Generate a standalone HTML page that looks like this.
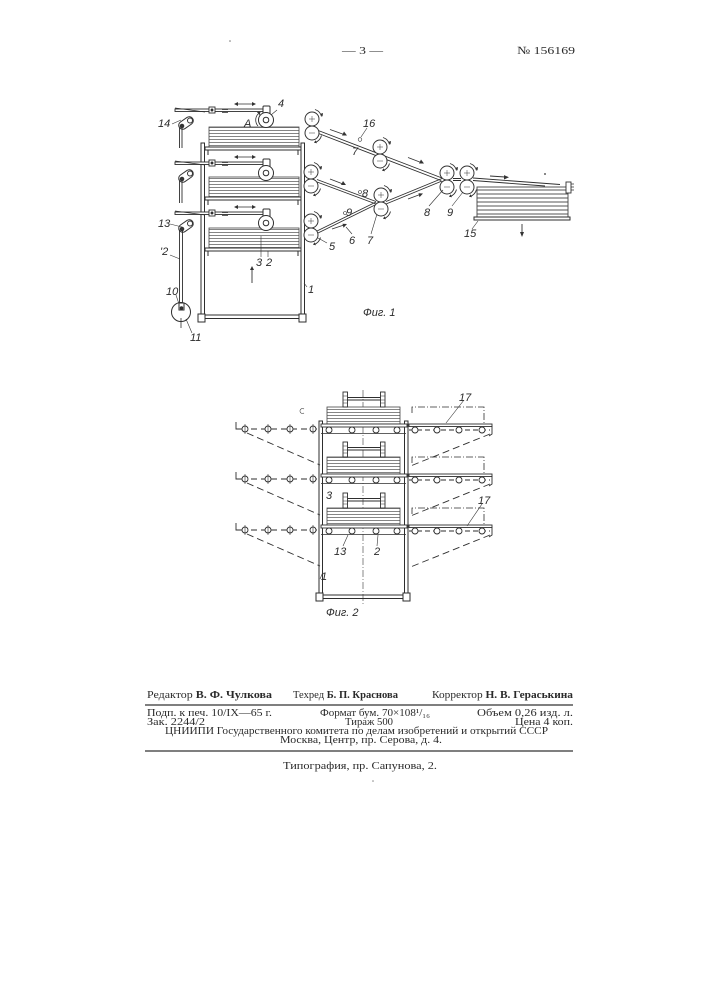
<!DOCTYPE html>
<html><head><meta charset="utf-8"><style>
html,body{margin:0;padding:0;background:#fff;}
svg{display:block;}
.t{font-family:"Liberation Serif","DejaVu Serif",serif;fill:#2a2a2a;font-size:11px;}
.b{font-weight:bold;}
.l{font-family:"Liberation Sans","DejaVu Sans",sans-serif;font-style:italic;fill:#2a2a2a;font-size:11px;}
</style></head><body>
<svg width="707" height="1000" viewBox="0 0 707 1000" xmlns="http://www.w3.org/2000/svg">
<defs>
<pattern id="st" width="6" height="3" patternUnits="userSpaceOnUse"><rect width="6" height="3" fill="#fff"/><line x1="0" y1="1.5" x2="6" y2="1.5" stroke="#777" stroke-width="0.9"/></pattern>
<pattern id="st2" width="6" height="4" patternUnits="userSpaceOnUse"><rect width="6" height="4" fill="#fff"/><line x1="0" y1="2" x2="6" y2="2" stroke="#555" stroke-width="1"/></pattern>
<g id="pair" fill="#fff" stroke="#333" stroke-width="1">
<circle cx="0" cy="0" r="7"/><circle cx="0" cy="14" r="7"/>
<path d="M-3,0H3M0,-3V3M-3,14H3" stroke-width="0.5"/>
<path d="M3,-9.5A10,10 0 0 1 9.5,-2.5M9.5,16.5A10,10 0 0 1 3,23.5" fill="none" stroke-width="0.9"/>
<path d="M8,-5l2.5,2.5l0.5,-3.5z M2,23.8l3,0.5l-1.5,-3z" fill="#333" stroke="none"/>
</g>
<g id="lever" stroke="#333" stroke-width="1" fill="#fff">
<rect x="-8" y="-4" width="16" height="8" rx="4" transform="rotate(-35)"/>
<circle cx="4" cy="-2.5" r="2.5"/>
<circle cx="-4" cy="3" r="1.8" fill="#333"/>
</g>
</defs>
<rect width="707" height="1000" fill="#fff"/>

<!-- header -->
<text class="t" x="342" y="54" font-size="13" textLength="41" lengthAdjust="spacingAndGlyphs">— 3 —</text>
<text class="t" x="517" y="54" font-size="12" textLength="58" lengthAdjust="spacingAndGlyphs">№ 156169</text>
<circle cx="230" cy="41" r="0.8" fill="#777"/>

<!-- ================= FIG 1 LEFT ================= -->
<g stroke="#2e2e2e" stroke-width="1" fill="none">
<!-- frame posts -->
<line x1="201" y1="143" x2="201" y2="316"/><line x1="204.5" y1="143" x2="204.5" y2="315"/>
<line x1="200.5" y1="143" x2="205" y2="143"/>
<line x1="301" y1="143" x2="301" y2="315"/><line x1="304.5" y1="143" x2="304.5" y2="316"/>
<line x1="300.5" y1="143" x2="305" y2="143"/>
<line x1="205" y1="315" x2="300" y2="315"/><line x1="205" y1="318.5" x2="300" y2="318.5"/>
<rect x="198" y="314" width="7" height="8" fill="#fff"/>
<rect x="299" y="314" width="7" height="8" fill="#fff"/>
</g>

<!-- stacks & shelves -->
<g stroke="#444" stroke-width="0.8">
<rect x="209" y="127" width="90" height="20" fill="url(#st)"/>
<rect x="209" y="177" width="90" height="20" fill="url(#st)"/>
<rect x="209" y="228" width="90" height="20" fill="url(#st)"/>
</g>
<g stroke="#2e2e2e" stroke-width="1" fill="#fff">
<rect x="205" y="147" width="96" height="3"/>
<rect x="205" y="197" width="96" height="3"/>
<rect x="205" y="248" width="96" height="3"/>
<path d="M208,150v5M298,150v5M208,200v5M298,200v5M208,251v5M298,251v5" fill="none"/>
</g>

<!-- rods -->
<g stroke="#2e2e2e" stroke-width="0.9" fill="#fff">
<rect x="175" y="109" width="93" height="2.5"/>
<rect x="175" y="162" width="93" height="2.5"/>
<rect x="175" y="212" width="93" height="2.5"/>
<path d="M175,108L205,112M175,161L205,165M175,211L205,215" fill="none" stroke-width="0.7"/>
<rect x="209" y="107" width="6" height="6"/>
<rect x="209" y="160" width="6" height="6"/>
<rect x="209" y="210" width="6" height="6"/>
<circle cx="212" cy="110" r="1" fill="#333"/><circle cx="212" cy="163" r="1" fill="#333"/><circle cx="212" cy="213" r="1" fill="#333"/>
<path d="M222,109.5h6M222,112.5h6M222,162.5h6M222,165.5h6M222,212.5h6M222,215.5h6" fill="none" stroke-width="0.7"/>
<!-- rod arrows -->
<path d="M235,104H255M235,157H255M235,207H255" fill="none" stroke-width="0.8"/>
</g>
<g fill="#333">
<path d="M234,104l4,-2v4z M256,104l-4,-2v4z"/>
<path d="M234,157l4,-2v4z M256,157l-4,-2v4z"/>
<path d="M234,207l4,-2v4z M256,207l-4,-2v4z"/>
</g>

<!-- rollers 4 etc -->
<g stroke="#2e2e2e" stroke-width="1" fill="#fff">
<rect x="263" y="106" width="7" height="14" rx="1"/>
<circle cx="266" cy="120" r="7.5"/><circle cx="266" cy="120" r="2.8"/>
<rect x="263" y="159" width="7" height="14" rx="1"/>
<circle cx="266" cy="173" r="7.5"/><circle cx="266" cy="173" r="2.8"/>
<rect x="263" y="209" width="7" height="14" rx="1"/>
<circle cx="266" cy="223" r="7.5"/><circle cx="266" cy="223" r="2.8"/>
<path d="M258,114A9,9 0 0 0 258,126" fill="none" stroke-width="0.8"/>
</g>
<path d="M257,112l2.5,3.5l1,-3.5z" fill="#333"/>

<!-- levers -->
<use href="#lever" x="186" y="123"/>
<use href="#lever" x="186" y="176"/>
<use href="#lever" x="186" y="226"/>
<g stroke="#2e2e2e" stroke-width="0.9" fill="none">
<path d="M179.5,128V148M182,128V148"/>
<path d="M179.5,181V203M182,181V203"/>
<path d="M179.5,230V303M182.5,230V303"/>
</g>
<!-- crank 10/11 -->
<g stroke="#2e2e2e" stroke-width="1" fill="#fff">
<circle cx="181" cy="312" r="9.5"/>
<rect x="179" y="303" width="5" height="7"/>
<circle cx="181.5" cy="308" r="1.3" fill="#333"/>
<path d="M181,318V328" fill="none" stroke-width="0.8"/>
</g>

<!-- fig1 left labels -->
<g stroke="#333" stroke-width="0.6" fill="none">
<path d="M172,124L181,120"/>
<path d="M277,110L271,115"/>
<path d="M170,224L182,227"/>
<path d="M170,255L180,259"/>
<path d="M176,295L179,304"/>
<path d="M192,333L186,319"/>
<path d="M261,257V236"/>
<path d="M268,257L268,251"/>
<path d="M307,287L304,283"/>
<path d="M252,283V268" stroke-width="0.9"/>
</g>
<path d="M252,266l-2,4h4z" fill="#333"/>
<text class="l" x="158" y="127" font-size="10.5">14</text>
<text class="l" x="278" y="107">4</text>
<text class="l" x="244" y="127" font-size="10.5">A</text>
<text class="l" x="158" y="227" font-size="10.5">13</text>
<text class="l" x="160" y="255" font-size="10.5">'2</text>
<text class="l" x="166" y="295" font-size="10.5">10</text>
<text class="l" x="190" y="341" font-size="10.5">11</text>
<text class="l" x="256" y="266">3</text>
<text class="l" x="266" y="266">2</text>
<text class="l" x="308" y="293">1</text>
<text class="l" x="363" y="316" font-size="9.5">Фиг. 1</text>

<!-- ================= FIG 1 RIGHT ================= -->
<g stroke="#2e2e2e" stroke-width="0.9" fill="none">
<path d="M317,130L442,178M316,132.5L441,180.5"/>
<path d="M317,179.5L376,201.5M317,182L376,204"/>
<path d="M317,231L376,202M317,233.5L376,204.5"/>
<path d="M386,201.5L442,178.5M386,204L442,181"/>
<path d="M453,178.5H461M453,180.5H461"/>
<path d="M473,178L560,184.5M473,180.5L545,186"/>
</g>
<use href="#pair" x="312" y="119"/>
<use href="#pair" x="311" y="172"/>
<use href="#pair" x="311" y="221"/>
<use href="#pair" x="380" y="147"/>
<use href="#pair" x="381" y="195"/>
<use href="#pair" x="447" y="173"/>
<use href="#pair" x="467" y="173"/>

<!-- belt arrows -->
<g stroke="#333" stroke-width="0.9" fill="none">
<path d="M330,129.5L344,134.5"/>
<path d="M408,157.5L421,162.5"/>
<path d="M330,179L343,184"/>
<path d="M408,199L420,194.5"/>
<path d="M332,229L344,225"/>
<path d="M490,176L505,177"/>
<path d="M522,224V235"/>
</g>
<g fill="#333">
<path d="M347,135.5l-5,0l2,-4z"/>
<path d="M424,163.5l-5,0l2,-4z"/>
<path d="M346,185l-5,0l2,-4z"/>
<path d="M423,193.5l-3.5,3.8l-1,-4z"/>
<path d="M347,224l-3.5,3.8l-1,-4z"/>
<path d="M509,177.3l-5,-2.2v4.4z"/>
<path d="M522,237l-2,-5h4z"/>
<circle cx="545" cy="174" r="0.9"/>
</g>

<!-- stack 15 -->
<rect x="477" y="187" width="91" height="30" fill="url(#st2)" stroke="#444" stroke-width="0.9"/>
<rect x="474" y="217" width="96" height="3" fill="#fff" stroke="#2e2e2e" stroke-width="1"/>
<rect x="566" y="182" width="5" height="11" fill="#fff" stroke="#333" stroke-width="0.9"/>
<path d="M571,184h3M571,187h3M571,190h3" stroke="#333" stroke-width="0.7"/>

<!-- fig1 right labels -->
<g stroke="#333" stroke-width="0.6" fill="#fff">
<path d="M367,128L361,137" fill="none"/>
<circle cx="360" cy="139.5" r="1.8"/>
<circle cx="360" cy="192" r="1.5"/>
<circle cx="345" cy="213" r="1.5"/>
<path d="M429,206L443,190M452,206L463,192M352,234L346,227M371,234L377,214M327,243L318,238M472,229L478,221" fill="none"/>
</g>
<text class="l" x="363" y="127" font-size="10.5">16</text>
<text class="l" x="352" y="155" font-size="7">7</text>
<text class="l" x="362" y="197" font-size="7">8</text>
<text class="l" x="346" y="216" font-size="7">9</text>
<text class="l" x="424" y="216">8</text>
<text class="l" x="447" y="216">9</text>
<text class="l" x="349" y="244">6</text>
<text class="l" x="367" y="244">7</text>
<text class="l" x="329" y="250">5</text>
<text class="l" x="464" y="237" font-size="10.5">15</text>

<!-- ================= FIG 2 ================= -->
<!-- center axis -->
<path d="M363,390V606" stroke="#555" stroke-width="0.7" stroke-dasharray="7 2 1 2" fill="none"/>
<g stroke="#2e2e2e" stroke-width="1" fill="none">
<line x1="319" y1="421" x2="319" y2="596"/><line x1="322.5" y1="421" x2="322.5" y2="595"/>
<line x1="318.5" y1="421" x2="323" y2="421"/>
<line x1="404.5" y1="421" x2="404.5" y2="595"/><line x1="408" y1="421" x2="408" y2="596"/>
<line x1="404" y1="421" x2="408.5" y2="421"/>
<line x1="323" y1="595" x2="404" y2="595"/><line x1="323" y1="598.5" x2="404" y2="598.5"/>
<rect x="316" y="593" width="7" height="8" fill="#fff"/>
<rect x="403" y="593" width="7" height="8" fill="#fff"/>
</g>

<!-- stacks & weights -->
<g stroke="#444" stroke-width="0.8">
<rect x="327" y="407" width="73" height="17" fill="url(#st)"/>
<rect x="327" y="457" width="73" height="17" fill="url(#st)"/>
<rect x="327" y="508" width="73" height="17" fill="url(#st)"/>
</g>
<g stroke="#2e2e2e" stroke-width="0.9" fill="#fff">
<path d="M347,397.5H381M347,400H381M347,447.5H381M347,450H381M347,498.5H381M347,501H381" fill="none"/>
<rect x="343" y="392" width="4.5" height="15"/><rect x="380.5" y="392" width="4.5" height="15"/>
<rect x="343" y="442" width="4.5" height="15"/><rect x="380.5" y="442" width="4.5" height="15"/>
<rect x="343" y="493" width="4.5" height="15"/><rect x="380.5" y="493" width="4.5" height="15"/>
<path d="M343,396h4.5M343,400h4.5M343,403h4.5M380.5,396h4.5M380.5,400h4.5M380.5,403h4.5M343,446h4.5M343,450h4.5M343,453h4.5M380.5,446h4.5M380.5,450h4.5M380.5,453h4.5M343,497h4.5M343,501h4.5M343,504h4.5M380.5,497h4.5M380.5,501h4.5M380.5,504h4.5" fill="none" stroke-width="0.6"/>
</g>

<!-- center shelves -->
<g stroke="#2e2e2e" stroke-width="0.9" fill="#fff">
<rect x="321" y="424" width="86" height="3"/>
<rect x="321" y="474" width="86" height="3"/>
<rect x="321" y="525" width="86" height="3"/>
<path d="M321,433.5H406M321,483.5H406M321,534.5H406" fill="none" stroke-width="0.7"/>
<circle cx="329" cy="430" r="3"/><circle cx="352" cy="430" r="3"/><circle cx="376" cy="430" r="3"/><circle cx="397" cy="430" r="3"/>
<circle cx="329" cy="480" r="3"/><circle cx="352" cy="480" r="3"/><circle cx="376" cy="480" r="3"/><circle cx="397" cy="480" r="3"/>
<circle cx="329" cy="531" r="3"/><circle cx="352" cy="531" r="3"/><circle cx="376" cy="531" r="3"/><circle cx="397" cy="531" r="3"/>
</g>

<!-- left rods -->
<g stroke="#2e2e2e" stroke-width="0.9" fill="#fff">
<path d="M236,422V429H241M236,472V479H241M236,523V530H241" fill="none"/>
<path d="M241,429H318M241,479H318M241,530H318" fill="none" stroke-dasharray="6 4"/>
<circle cx="245" cy="429" r="3"/><circle cx="268" cy="429" r="3"/><circle cx="290" cy="429" r="3"/><circle cx="313" cy="429" r="3"/>
<circle cx="245" cy="479" r="3"/><circle cx="268" cy="479" r="3"/><circle cx="290" cy="479" r="3"/><circle cx="313" cy="479" r="3"/>
<circle cx="245" cy="530" r="3"/><circle cx="268" cy="530" r="3"/><circle cx="290" cy="530" r="3"/><circle cx="313" cy="530" r="3"/>
<path d="M245,424v10M268,424v10M290,424v10M313,424v10M245,474v10M268,474v10M290,474v10M313,474v10M245,525v10M268,525v10M290,525v10M313,525v10" fill="none" stroke-width="0.6"/>
<path d="M247,433L320,465M247,483L320,515M247,534L320,566" fill="none" stroke-dasharray="7 4"/>
</g>

<!-- right shelves -->
<g stroke="#2e2e2e" stroke-width="0.9" fill="#fff">
<rect x="409" y="424" width="83" height="2.5"/>
<rect x="409" y="474" width="83" height="2.5"/>
<rect x="409" y="525" width="83" height="2.5"/>
<path d="M409,430H490M409,480H490M409,531H490" fill="none" stroke-dasharray="5 3"/>
<circle cx="415" cy="430" r="3"/><circle cx="437" cy="430" r="3"/><circle cx="459" cy="430" r="3"/><circle cx="482" cy="430" r="3"/>
<circle cx="415" cy="480" r="3"/><circle cx="437" cy="480" r="3"/><circle cx="459" cy="480" r="3"/><circle cx="482" cy="480" r="3"/>
<circle cx="415" cy="531" r="3"/><circle cx="437" cy="531" r="3"/><circle cx="459" cy="531" r="3"/><circle cx="482" cy="531" r="3"/>
<path d="M492,426V434L489,436M492,476V484L489,486M492,527V535L489,537" fill="none"/>
<path d="M412,413V407H484V424M412,463V457H484V474M412,514V508H484V525" fill="none" stroke-width="0.8" stroke-dasharray="7 2 1 2"/>
<path d="M490,434L408,467M490,484L408,517M490,535L408,568" fill="none" stroke-dasharray="7 4"/>
</g>

<!-- fig2 labels -->
<g stroke="#333" stroke-width="0.6" fill="none">
<path d="M464,400L446,423"/>
<path d="M482,504L467,526"/>
<path d="M343,546L348,535"/>
<path d="M377,546L378,535"/>
<path d="M323,572L320,579"/>
<path d="M304,409a2.5,2.5 0 1 0 0,4"/>
</g>
<text class="l" x="459" y="401" font-size="10.5">17</text>
<text class="l" x="478" y="504" font-size="10.5">17</text>
<text class="l" x="326" y="499">3</text>
<text class="l" x="334" y="555" font-size="10.5">13</text>
<text class="l" x="374" y="555">2</text>
<text class="l" x="321" y="580">1</text>
<text class="l" x="326" y="616" font-size="10">Фиг. 2</text>

<!-- ================= FOOTER ================= -->
<text class="t" x="147" y="698" textLength="125" lengthAdjust="spacingAndGlyphs">Редактор <tspan class="b">В. Ф. Чулкова</tspan></text>
<text class="t" x="293" y="698" textLength="105" lengthAdjust="spacingAndGlyphs">Техред <tspan class="b">Б. П. Краснова</tspan></text>
<text class="t" x="432" y="698" textLength="141" lengthAdjust="spacingAndGlyphs">Корректор <tspan class="b">Н. В. Гераськина</tspan></text>
<line x1="145" y1="705" x2="573" y2="705" stroke="#333" stroke-width="1.2"/>
<text class="t" x="147" y="716" textLength="125" lengthAdjust="spacingAndGlyphs">Подп. к печ. 10/IX—65 г.</text>
<text class="t" x="320" y="716" textLength="110" lengthAdjust="spacingAndGlyphs">Формат бум. 70×108¹/₁₆</text>
<text class="t" x="477" y="716" textLength="96" lengthAdjust="spacingAndGlyphs">Объем 0,26 изд. л.</text>
<text class="t" x="147" y="725" textLength="58" lengthAdjust="spacingAndGlyphs">Зак. 2244/2</text>
<text class="t" x="345" y="725" textLength="48" lengthAdjust="spacingAndGlyphs">Тираж 500</text>
<text class="t" x="515" y="725" textLength="58" lengthAdjust="spacingAndGlyphs">Цена 4 коп.</text>
<text class="t" x="165" y="734" textLength="383" lengthAdjust="spacingAndGlyphs">ЦНИИПИ Государственного комитета по делам изобретений и открытий СССР</text>
<text class="t" x="280" y="743" textLength="162" lengthAdjust="spacingAndGlyphs">Москва, Центр, пр. Серова, д. 4.</text>
<line x1="145" y1="751" x2="573" y2="751" stroke="#333" stroke-width="1.2"/>
<text class="t" x="283" y="769" textLength="154" lengthAdjust="spacingAndGlyphs">Типография, пр. Сапунова, 2.</text>
<circle cx="373" cy="781" r="0.8" fill="#888"/>
</svg>
</body></html>
